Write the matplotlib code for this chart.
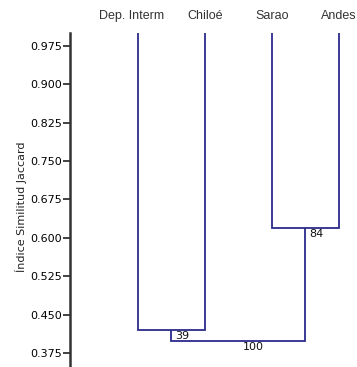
import matplotlib
matplotlib.use("Agg")
import matplotlib.pyplot as plt
from matplotlib.transforms import blended_transform_factory, offset_copy

# Data
leaves = ["Dep. Interm", "Chiloé", "Sarao", "Andes"]
# merges: (left cluster, right cluster, similarity, bootstrap)
merge_left = [0, 2, 4]
merge_right = [1, 3, 5]
merge_height = [0.419, 0.619, 0.399]
bootstrap = ["39", "84", "100"]
yticks = [0.375, 0.450, 0.525, 0.600, 0.675, 0.750, 0.825, 0.900, 0.975]
top_value = 1.0

W, H = 357, 367
fig = plt.figure(figsize=(W / 100, H / 100), dpi=100)
ax = fig.add_axes([70 / W, 0, 287 / W, 334 / H])

color = "#2b2b8c"
lw = 1.3

# cluster positions and heights
xpos = {i: float(i + 1) for i in range(len(leaves))}
ypos = {i: top_value for i in range(len(leaves))}
for k, (a, b, h) in enumerate(zip(merge_left, merge_right, merge_height)):
    node = len(leaves) + k
    ax.plot([xpos[a], xpos[a], xpos[b], xpos[b]], [ypos[a], h, h, ypos[b]],
            color=color, lw=lw, solid_capstyle="butt", solid_joinstyle="miter")
    xpos[node] = (xpos[a] + xpos[b]) / 2
    ypos[node] = h
    tr = offset_copy(ax.transData, fig=fig, x=4, y=-1, units="dots")
    ax.text(xpos[node], h, bootstrap[k], transform=tr, ha="left", va="top",
            fontsize=8, color="#111111", family="DejaVu Sans")

ax.set_xlim(1 - 68 / 67, 4 + 18 / 67)
ax.set_ylim(0.375 - 14 / 512, top_value)
ax.set_yticks(yticks)
ax.set_yticklabels([f"{v:.3f}" for v in yticks], fontsize=8, family="DejaVu Sans")
ax.set_xticks([])
for s in ["top", "right", "bottom"]:
    ax.spines[s].set_visible(False)
ax.spines["left"].set_linewidth(1.8)
ax.spines["left"].set_color("#333333")
ax.tick_params(axis="y", direction="out", length=5, width=1.3, pad=1, color="#333333")
ax.set_ylabel("Índice Similitud Jaccard", fontsize=8, family="DejaVu Sans", color="#222222")
ax.yaxis.set_label_coords(-43 / 287, 0.479)

# leaf labels on top
btr = blended_transform_factory(ax.transData, fig.transFigure)
label_shift = [-6, 0, 0, 0]
for i, name in enumerate(leaves):
    t = offset_copy(btr, fig=fig, x=label_shift[i], y=0, units="dots")
    ax.text(xpos[i], 1 - 16 / H, name, transform=t, ha="center", va="center",
            fontsize=9, family="Liberation Sans", color="#333333", clip_on=False)

fig.savefig("out.png", dpi=100)
